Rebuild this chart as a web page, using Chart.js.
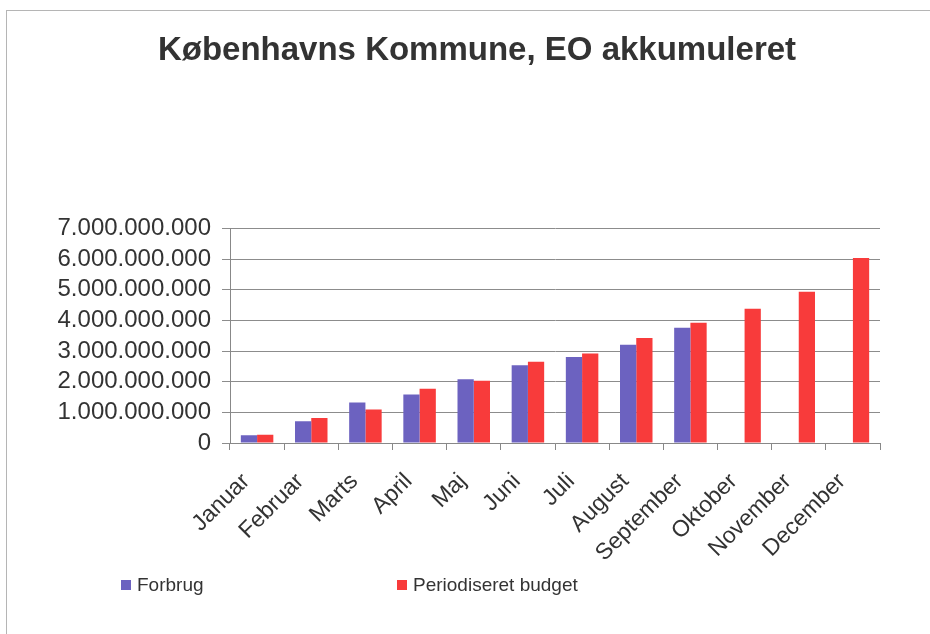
<!DOCTYPE html>
<html>
<head>
<meta charset="utf-8">
<script src="https://cdn.jsdelivr.net/npm/chart.js@4/dist/chart.umd.min.js"></script>
<style>
  html, body { margin: 0; padding: 0; background: #fff; overflow: hidden; }
  #wrap { position: relative; width: 930px; height: 634px; }
  #frame { position: absolute; left: 6px; top: 10px; width: 940px; height: 640px; border: 1px solid #b5b5b5; }
  #legend { position: absolute; top: 574px; left: 0; width: 930px; font: 19px "Liberation Sans", Arial, sans-serif; color: #333; }
  .item { position: absolute; top: 0; display: flex; align-items: center; }
  .box { width: 10px; height: 10px; margin-right: 6px; }
</style>
</head>
<body>
<div id="wrap">
  <div id="frame"></div>
  <canvas id="chart" width="930" height="634"></canvas>
  <div id="legend"></div>
</div>
<script>
document.addEventListener('DOMContentLoaded', function() {
    const months = ['Januar', 'Februar', 'Marts', 'April', 'Maj', 'Juni', 'Juli', 'August', 'September', 'Oktober', 'November', 'December'];
    const forbrug = [250000000, 710000000, 1320000000, 1580000000, 2080000000, 2540000000, 2810000000, 3210000000, 3760000000, null, null, null];
    const budget = [270000000, 820000000, 1090000000, 1770000000, 2030000000, 2650000000, 2920000000, 3430000000, 3930000000, 4380000000, 4940000000, 6040000000];
    const seriesNames = ['Forbrug', 'Periodiseret budget'];
    const seriesColors = ['#6c62c0', '#f83b3b'];
    const legendLeft = [121, 397];

    const font = '"Liberation Sans", Arial, sans-serif';

    function dots(v) {
        return String(v).replace(/\B(?=(\d{3})+(?!\d))/g, '.');
    }

    const ctx = document.getElementById('chart').getContext('2d');
    new Chart(ctx, {
        type: 'bar',
        data: {
            labels: months,
            datasets: [
                { label: seriesNames[0], data: forbrug, backgroundColor: seriesColors[0] },
                { label: seriesNames[1], data: budget, backgroundColor: seriesColors[1] }
            ]
        },
        options: {
            responsive: false,
            animation: false,
            layout: { padding: { left: 24, right: 0, top: 0, bottom: 0 } },
            datasets: { bar: { categoryPercentage: 0.6, barPercentage: 1.0 } },
            plugins: {
                legend: { display: false },
                tooltip: { enabled: false },
                title: {
                    display: true,
                    text: 'Københavns Kommune, EO akkumuleret',
                    color: '#333',
                    font: { family: font, size: 33, weight: 'bold' },
                    padding: { top: 31, bottom: 158 }
                }
            },
            scales: {
                x: {
                    grid: { drawOnChartArea: false, tickLength: 7, color: '#888', offset: true },
                    border: { color: '#888' },
                    ticks: {
                        color: '#333',
                        font: { family: font, size: 23 },
                        minRotation: 45,
                        maxRotation: 45,
                        autoSkip: false,
                        padding: 18,
                        labelOffset: -11
                    },
                    afterFit: function(scale) { scale.height = 191; }
                },
                y: {
                    min: 0,
                    max: 7000000000,
                    grid: { color: '#8c8c8c', tickLength: 8 },
                    border: { color: '#888' },
                    ticks: {
                        stepSize: 1000000000,
                        autoSkip: false,
                        color: '#333',
                        font: { family: font, size: 24 },
                        padding: 11,
                        callback: v => dots(v)
                    },
                    afterFit: function(scale) { scale.width = 206; }
                },
                // empty right-hand space so the plot ends where the reference's does
                spacer: {
                    type: 'linear',
                    position: 'right',
                    grid: { display: false },
                    border: { display: false },
                    ticks: { display: false },
                    afterFit: function(scale) { scale.width = 50; }
                }
            }
        }
    });

    const legend = document.getElementById('legend');
    seriesNames.forEach((name, i) => {
        const item = document.createElement('div');
        item.className = 'item';
        item.style.left = legendLeft[i] + 'px';
        item.innerHTML = `<span class="box" style="background:${seriesColors[i]}"></span><span>${name}</span>`;
        legend.appendChild(item);
    });
});
</script>
</body>
</html>
